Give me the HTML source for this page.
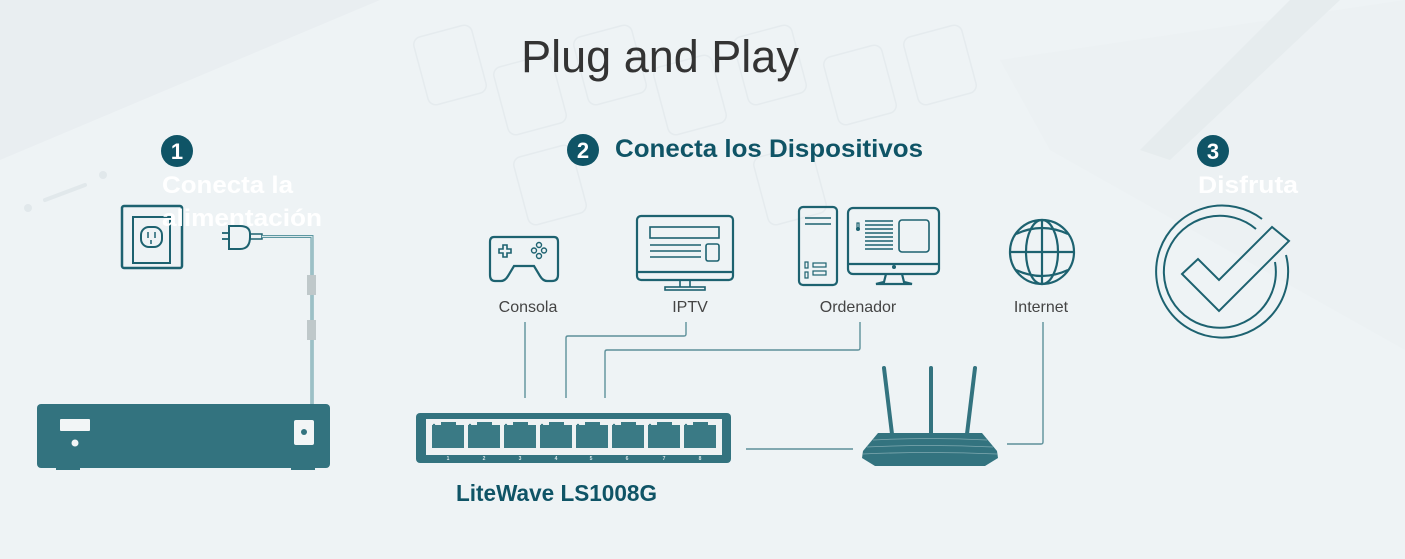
<!DOCTYPE html>
<html><head><meta charset="utf-8"><style>
html,body{margin:0;padding:0;width:1405px;height:559px;overflow:hidden;background:#eef3f5;}
svg{display:block}
text{font-family:"Liberation Sans",sans-serif}
</style></head><body>
<svg width="1405" height="559" viewBox="0 0 1405 559" xmlns="http://www.w3.org/2000/svg">
<rect width="1405" height="559" fill="#eef3f5"/>
<path d="M0 0 L380 0 L0 160 Z" fill="#e9eef1"/>
<line x1="45" y1="200" x2="85" y2="185" stroke="#e1e8eb" stroke-width="4" stroke-linecap="round"/>
<circle cx="28" cy="208" r="4" fill="#e1e8eb"/><circle cx="103" cy="175" r="4" fill="#e1e8eb"/>
<g fill="none" stroke="#e5ebee" stroke-width="1.5">
<rect x="420" y="30" width="60" height="70" rx="8" transform="rotate(-15 450 65)"/>
<rect x="500" y="60" width="60" height="70" rx="8" transform="rotate(-15 530 95)"/>
<rect x="580" y="30" width="60" height="70" rx="8" transform="rotate(-15 610 65)"/>
<rect x="660" y="60" width="60" height="70" rx="8" transform="rotate(-15 690 95)"/>
<rect x="740" y="30" width="60" height="70" rx="8" transform="rotate(-15 770 65)"/>
<rect x="830" y="50" width="60" height="70" rx="8" transform="rotate(-15 860 85)"/>
<rect x="910" y="30" width="60" height="70" rx="8" transform="rotate(-15 940 65)"/>
<rect x="520" y="150" width="60" height="70" rx="8" transform="rotate(-15 550 185)"/>
<rect x="760" y="150" width="60" height="70" rx="8" transform="rotate(-15 790 185)"/>
</g>
<path d="M1000 60 L1405 0 L1405 350 L1050 150 Z" fill="#ebf0f2" opacity="0.8"/>
<path d="M1290 0 L1340 0 L1170 160 L1140 150 Z" fill="#e6ecee"/>

<text x="660" y="72" font-size="45" fill="#333" text-anchor="middle">Plug and Play</text>

<circle cx="177" cy="151" r="16" fill="#0f5466"/>
<text x="177" y="159" font-size="22" font-weight="bold" fill="#fff" text-anchor="middle">1</text>
<rect x="122" y="206" width="60" height="62" rx="2" fill="none" stroke="#1d6270" stroke-width="2.5"/>
<rect x="133" y="217" width="37" height="46" fill="none" stroke="#1d6270" stroke-width="2"/>
<rect x="141" y="227" width="21" height="20" rx="8" fill="none" stroke="#1d6270" stroke-width="2"/>
<line x1="148" y1="232" x2="148" y2="238" stroke="#1d6270" stroke-width="1.5"/>
<line x1="155" y1="232" x2="155" y2="238" stroke="#1d6270" stroke-width="1.5"/>
<line x1="151" y1="240" x2="151" y2="244" stroke="#1d6270" stroke-width="1.5"/>
<text x="162" y="193" font-size="24" font-weight="bold" fill="#fff" textLength="131" lengthAdjust="spacingAndGlyphs">Conecta la</text>
<text x="162" y="226" font-size="24" font-weight="bold" fill="#fff" textLength="160" lengthAdjust="spacingAndGlyphs">alimentación</text>
<path d="M229 226 L240 226 Q250 226 250 234 L250 237 Q250 249 240 249 L229 249 Z" fill="#eef3f5" stroke="#1d6270" stroke-width="2"/>
<line x1="222" y1="233" x2="229" y2="233" stroke="#1d6270" stroke-width="1.8"/>
<line x1="222" y1="239" x2="229" y2="239" stroke="#1d6270" stroke-width="1.8"/>
<rect x="250" y="234" width="12" height="5" fill="none" stroke="#1d6270" stroke-width="1.5"/>
<path d="M262 236.5 L312 236.5 L312 405" fill="none" stroke="#5e98a2" stroke-width="3"/>
<path d="M262 236.5 L312 236.5 L312 405" fill="none" stroke="#d9e7ea" stroke-width="1"/>
<rect x="307" y="275" width="9" height="20" fill="#bfc8ca"/>
<rect x="307" y="320" width="9" height="20" fill="#bfc8ca"/>
<rect x="37" y="404" width="293" height="64" rx="4" fill="#33737f"/>
<rect x="60" y="419" width="30" height="12" rx="1" fill="#f2f5f6"/>
<circle cx="75" cy="443" r="3.5" fill="#f2f5f6"/>
<rect x="294" y="420" width="20" height="25" rx="2" fill="#f2f5f6"/>
<circle cx="304" cy="432" r="3" fill="#33737f"/>
<rect x="56" y="466" width="24" height="4" fill="#33737f"/>
<rect x="291" y="466" width="24" height="4" fill="#33737f"/>

<circle cx="583" cy="150" r="16" fill="#0f5466"/>
<text x="583" y="158" font-size="22" font-weight="bold" fill="#fff" text-anchor="middle">2</text>
<text x="615" y="157" font-size="25" font-weight="bold" fill="#0f5466" textLength="308" lengthAdjust="spacingAndGlyphs">Conecta los Dispositivos</text>

<g fill="none" stroke="#1d6270" stroke-width="2.2">
<path d="M494 237 L554 237 Q558 237 558 242 L558 275 Q558 281 552 281 L547 281 Q543 281 540 276 L534 266 L514 266 L508 276 Q505 281 501 281 L495 281 Q490 281 490 275 L490 242 Q490 237 494 237 Z"/>
<path d="M499 249 h4 v-4 h4 v4 h4 v4 h-4 v4 h-4 v-4 h-4 z" stroke-width="1.6"/>
<circle cx="539" cy="245" r="2.5" stroke-width="1.4"/><circle cx="539" cy="256" r="2.5" stroke-width="1.4"/>
<circle cx="534" cy="250.5" r="2.5" stroke-width="1.4"/><circle cx="544" cy="250.5" r="2.5" stroke-width="1.4"/>
<rect x="637" y="216" width="96" height="64" rx="4"/>
<line x1="637" y1="272" x2="733" y2="272"/>
<rect x="650" y="227" width="69" height="11" stroke-width="1.6"/>
<line x1="650" y1="245" x2="701" y2="245" stroke-width="1.6"/>
<line x1="650" y1="251" x2="701" y2="251" stroke-width="1.6"/>
<line x1="650" y1="257" x2="701" y2="257" stroke-width="1.6"/>
<rect x="706" y="244" width="13" height="17" rx="2" stroke-width="1.6"/>
<path d="M680 280 v7 M690 280 v7" stroke-width="1.6"/>
<rect x="665" y="287" width="40" height="3" stroke-width="1.6"/>
<rect x="799" y="207" width="38" height="78" rx="4"/>
<line x1="805" y1="218" x2="831" y2="218" stroke-width="1.6"/>
<line x1="805" y1="224" x2="831" y2="224" stroke-width="1.6"/>
<rect x="805" y="262" width="3" height="6" stroke-width="1.2"/><rect x="805" y="272" width="3" height="6" stroke-width="1.2"/>
<rect x="813" y="263" width="13" height="4" stroke-width="1.2"/><rect x="813" y="271" width="13" height="4" stroke-width="1.2"/>
<rect x="848" y="208" width="91" height="66" rx="5"/>
<line x1="848" y1="264" x2="939" y2="264"/>
<path d="M886 274 L884 282 L876 284 L912 284 L904 282 L902 274"/>
<rect x="899" y="220" width="30" height="32" rx="3" stroke-width="1.6"/>
<g stroke-width="1.5"><line x1="865" y1="221" x2="893" y2="221"/><line x1="865" y1="225" x2="893" y2="225"/><line x1="865" y1="229" x2="893" y2="229"/><line x1="865" y1="233" x2="893" y2="233"/><line x1="865" y1="237" x2="893" y2="237"/><line x1="865" y1="241" x2="893" y2="241"/><line x1="865" y1="245" x2="893" y2="245"/><line x1="865" y1="249" x2="893" y2="249"/></g>
<rect x="857" y="223" width="2" height="6" stroke-width="1.2"/>
<circle cx="1042" cy="252" r="32"/>
<ellipse cx="1042" cy="252" rx="16" ry="32"/>
<line x1="1042" y1="220" x2="1042" y2="284"/>
<line x1="1010" y1="252" x2="1074" y2="252"/>
<path d="M1016 234 Q1042 222 1068 234 M1016 270 Q1042 282 1068 270"/>
</g>
<circle cx="858" cy="229" r="2" fill="#1d6270"/>
<circle cx="894" cy="267" r="2" fill="#1d6270"/>

<g font-size="16" fill="#444" text-anchor="middle">
<text x="528" y="312">Consola</text>
<text x="690" y="312">IPTV</text>
<text x="858" y="312">Ordenador</text>
<text x="1041" y="312">Internet</text>
</g>

<g fill="none" stroke="#5d909a" stroke-width="1.4">
<path d="M525 322 V398"/>
<path d="M686 322 V334 Q686 336 684 336 H568 Q566 336 566 338 V398"/>
<path d="M860 322 V348 Q860 350 858 350 H607 Q605 350 605 352 V398"/>
<path d="M746 449 H853"/>
<path d="M1043 322 V442 Q1043 444 1041 444 H1007"/>
</g>

<rect x="416" y="413" width="315" height="50" rx="4" fill="#33737f"/>
<rect x="426" y="419" width="296" height="36" fill="#eef2f3"/>
<g fill="#3a7a85">
<path d="M432 425 h9 v-3 h15 v3 h8 v23 h-32 z"/>
<path d="M468 425 h9 v-3 h15 v3 h8 v23 h-32 z"/>
<path d="M504 425 h9 v-3 h15 v3 h8 v23 h-32 z"/>
<path d="M540 425 h9 v-3 h15 v3 h8 v23 h-32 z"/>
<path d="M576 425 h9 v-3 h15 v3 h8 v23 h-32 z"/>
<path d="M612 425 h9 v-3 h15 v3 h8 v23 h-32 z"/>
<path d="M648 425 h9 v-3 h15 v3 h8 v23 h-32 z"/>
<path d="M684 425 h9 v-3 h15 v3 h8 v23 h-32 z"/>
</g>
<g fill="#3a7a85"><circle cx="434" cy="425" r="1.2"/><circle cx="470" cy="425" r="1.2"/><circle cx="506" cy="425" r="1.2"/><circle cx="542" cy="425" r="1.2"/><circle cx="578" cy="425" r="1.2"/><circle cx="614" cy="425" r="1.2"/><circle cx="650" cy="425" r="1.2"/><circle cx="686" cy="425" r="1.2"/></g>
<g font-size="5" fill="#d9e6e8" text-anchor="middle" font-weight="bold">
<text x="448" y="460">1</text><text x="484" y="460">2</text><text x="520" y="460">3</text><text x="556" y="460">4</text><text x="591" y="460">5</text><text x="627" y="460">6</text><text x="664" y="460">7</text><text x="700" y="460">8</text>
</g>
<text x="456" y="501" font-size="23" font-weight="bold" fill="#0f5466" textLength="201" lengthAdjust="spacingAndGlyphs">LiteWave LS1008G</text>

<g stroke="#33737f" stroke-width="4" stroke-linecap="round">
<line x1="884" y1="368" x2="892" y2="434"/>
<line x1="931" y1="368" x2="931" y2="434"/>
<line x1="975" y1="368" x2="967" y2="434"/>
</g>
<path d="M878 433 L982 433 L997 451 L998 458 L985 466 L875 466 L862 458 L863 451 Z" fill="#33737f"/>
<g stroke="#7fa9b0" stroke-width="0.8" fill="none">
<path d="M873 440 Q930 437 987 440"/><path d="M867 447 Q930 444 993 447"/><path d="M863 454 Q930 451 997 454"/>
</g>

<circle cx="1213" cy="151" r="16" fill="#0f5466"/>
<text x="1213" y="159" font-size="22" font-weight="bold" fill="#fff" text-anchor="middle">3</text>
<text x="1198" y="193" font-size="24" font-weight="bold" fill="#fff" textLength="100" lengthAdjust="spacingAndGlyphs">Disfruta</text>
<g fill="none" stroke="#1d6270" stroke-width="2">
<path d="M1262 219 A66 66 0 1 0 1286 255"/>
<path d="M1256 229 A56 56 0 1 0 1275 262"/>
<path d="M1182 274 L1198 259 L1219 280 L1272 227 L1289 241 L1219 311 Z"/>
</g>
</svg>
</body></html>
